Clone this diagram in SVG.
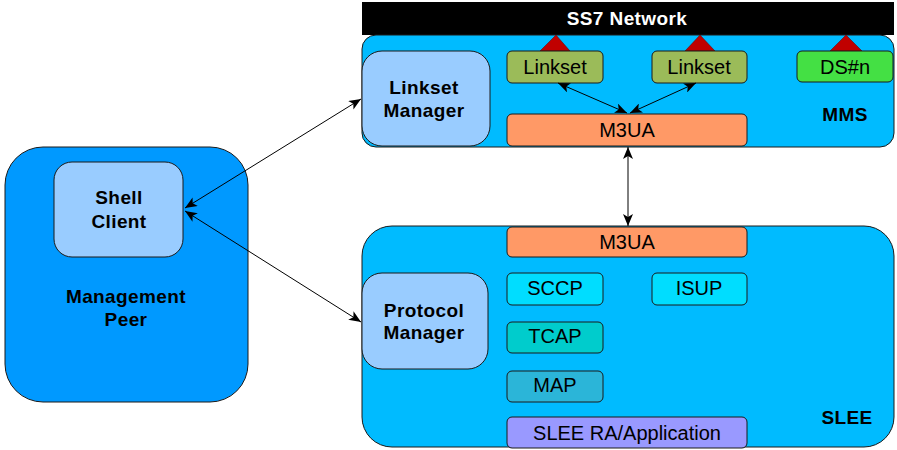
<svg xmlns="http://www.w3.org/2000/svg" width="897" height="450" viewBox="0 0 897 450">
<style>
text{font-family:"Liberation Sans",Arial,sans-serif;fill:#000;text-anchor:middle}
.b{font-weight:bold;font-size:19px;letter-spacing:0.4px}
.n{font-size:20px}
.box{stroke:#1a1a1a;stroke-width:1}
.cn{stroke:#000;stroke-width:1;fill:none;marker-start:url(#ah);marker-end:url(#ah)}
.tri{fill:#C00000;stroke:#600000;stroke-width:0.5}
</style>
<defs>
<marker id="ah" markerUnits="userSpaceOnUse" markerWidth="13" markerHeight="10" refX="12" refY="5" orient="auto-start-reverse">
<path d="M0,0 L12,5 L0,10 L3,5 z" fill="#000"/>
</marker>
</defs>

<g id="ss7">
<rect x="362" y="2" width="532" height="33" fill="#000"/>
<text x="627" y="25" class="b" style="fill:#fff">SS7 Network</text>
</g>

<g id="mms">
<rect class="box" x="362" y="35" width="532" height="112" rx="14" fill="#00BBFF"/>
<text x="845" y="121" class="b">MMS</text>
</g>

<g id="linkset-manager">
<rect class="box" x="362" y="51" width="128" height="95" rx="20" fill="#99CCFF"/>
<text x="424" y="94" class="b">Linkset</text>
<text x="424" y="117" class="b">Manager</text>
</g>

<g id="tri1"><polygon class="tri" points="540,51 570,51 556,35"/></g>
<g id="tri2"><polygon class="tri" points="685,51 715,51 700,35"/></g>
<g id="tri3"><polygon class="tri" points="830,51 862,51 846,35"/></g>

<g id="linkset1">
<rect class="box" x="507" y="51" width="96" height="32" rx="5" fill="#9BBB59"/>
<text x="555" y="74" class="n">Linkset</text>
</g>
<g id="linkset2">
<rect class="box" x="652" y="51" width="95" height="32" rx="5" fill="#9BBB59"/>
<text x="699" y="74" class="n">Linkset</text>
</g>
<g id="dsn">
<rect class="box" x="797" y="51" width="96" height="31" rx="5" fill="#44E044"/>
<text x="845" y="74" class="n">DS#n</text>
</g>
<g id="m3ua-mms">
<rect class="box" x="507" y="114" width="240" height="32" rx="5" fill="#FF9966"/>
<text x="627" y="137" class="n">M3UA</text>
</g>

<g id="mgmt-peer">
<rect class="box" x="5" y="147" width="243" height="255" rx="38" fill="#0099FF"/>
<text x="126" y="303" class="b">Management</text>
<text x="126" y="326" class="b">Peer</text>
</g>
<g id="shell-client">
<rect class="box" x="54" y="162" width="129" height="95" rx="18" fill="#99CCFF"/>
<text x="119" y="204" class="b">Shell</text>
<text x="119" y="228" class="b">Client</text>
</g>

<g id="slee">
<rect class="box" x="362" y="226" width="532" height="221" rx="30" fill="#00BBFF"/>
<text x="847" y="424" class="b">SLEE</text>
</g>
<g id="protocol-manager">
<rect class="box" x="362" y="273" width="126" height="96" rx="20" fill="#99CCFF"/>
<text x="424" y="317" class="b">Protocol</text>
<text x="424" y="339" class="b">Manager</text>
</g>
<g id="m3ua-slee">
<rect class="box" x="507" y="227" width="240" height="30" rx="5" fill="#FF9966"/>
<text x="627" y="249" class="n">M3UA</text>
</g>
<g id="sccp">
<rect class="box" x="507" y="273" width="96" height="32" rx="5" fill="#00DDFF"/>
<text x="555" y="295" class="n">SCCP</text>
</g>
<g id="isup">
<rect class="box" x="652" y="273" width="95" height="32" rx="5" fill="#00DDFF"/>
<text x="699" y="295" class="n">ISUP</text>
</g>
<g id="tcap">
<rect class="box" x="507" y="322" width="96" height="31" rx="5" fill="#00CCCC"/>
<text x="555" y="343" class="n">TCAP</text>
</g>
<g id="map">
<rect class="box" x="507" y="371" width="96" height="31" rx="5" fill="#2BB5D8"/>
<text x="555" y="392" class="n">MAP</text>
</g>
<g id="slee-ra">
<rect class="box" x="507" y="417" width="240" height="31" rx="5" fill="#9999FF"/>
<text x="627" y="440" class="n">SLEE RA/Application</text>
</g>

<g id="connectors">
<line class="cn" x1="185" y1="208" x2="361" y2="99"/>
<line class="cn" x1="185" y1="211" x2="361" y2="322"/>
<line class="cn" x1="628" y1="147" x2="628" y2="226"/>
<line class="cn" x1="558" y1="83" x2="627" y2="113"/>
<line class="cn" x1="696" y1="83" x2="630" y2="113"/>
</g>
</svg>
